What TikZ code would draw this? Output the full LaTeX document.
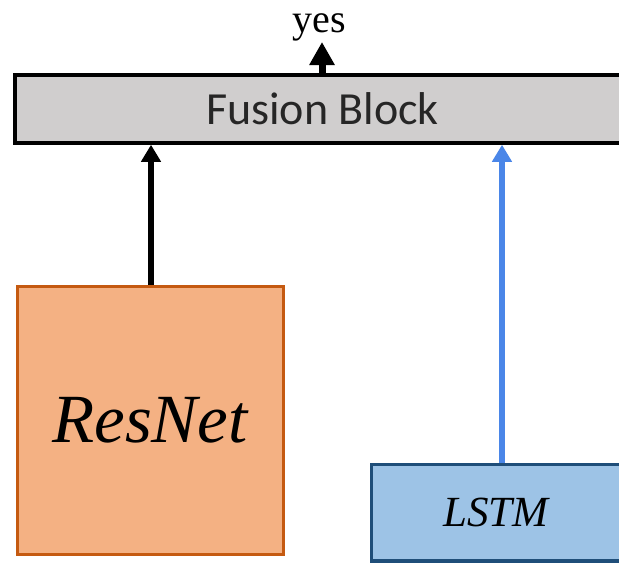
\documentclass[tikz,border=0pt]{standalone}
\usepackage{fontspec}
\setmainfont{Liberation Serif}
\newfontfamily\calib{Carlito}
\usetikzlibrary{arrows.meta}
\definecolor{fusfill}{RGB}{208,206,206}
\definecolor{resfill}{RGB}{244,177,131}
\definecolor{resdraw}{RGB}{197,90,17}
\definecolor{lstmfill}{RGB}{157,195,230}
\definecolor{lstmdraw}{RGB}{31,78,121}
\definecolor{arrblue}{RGB}{74,134,232}
\tikzset{
  fusbox/.style={draw=black, fill=fusfill, line width=3.5pt, minimum width=615pt, minimum height=68pt, inner sep=0pt, font=\calib\fontsize{46}{52}\selectfont, text=black!85},
  resbox/.style={draw=resdraw, fill=resfill, line width=3pt, minimum width=266pt, minimum height=268pt, inner sep=0pt, font=\itshape\fontsize{69}{80}\selectfont},
  lstmbox/.style={draw=lstmdraw, fill=lstmfill, line width=3.5pt, minimum width=249pt, minimum height=96.5pt, inner sep=0pt, font=\itshape\fontsize{43}{50}\selectfont},
  blackarr/.style={draw=black, line width=6pt, -{Triangle[width=19pt,length=17pt]}},
  bluearr/.style={draw=arrblue, line width=6pt, -{Triangle[width=19pt,length=17pt]}},
  toparr/.style={draw=black, line width=7pt, -{Triangle[width=24pt,length=23pt]}},
  lab/.style={font=\fontsize{40}{46}\selectfont, inner sep=0pt}
}
\begin{document}
\begin{tikzpicture}[x=1pt,y=-1pt]
\clip (0,0) rectangle (619,563);
\fill[white] (0,0) rectangle (619,563);
\node[fusbox] (fusion) at (322.5,109) {Fusion Block};
\node[resbox] (resnet) at (150,420) {ResNet};
\node[lstmbox] (lstm) at (496,512.8) {LSTM};
\node[lab, anchor=base] (yes) at (319,32) {yes};
\coordinate (topout) at (322,42);
\draw[toparr] (fusion.north -| topout) -- (topout);
\draw[blackarr] ([xshift=1pt]resnet.north) -- ([xshift=1pt]resnet.north |- fusion.south);
\draw[bluearr] ([xshift=6pt]lstm.north) -- ([xshift=6pt]lstm.north |- fusion.south);
\end{tikzpicture}
\end{document}
